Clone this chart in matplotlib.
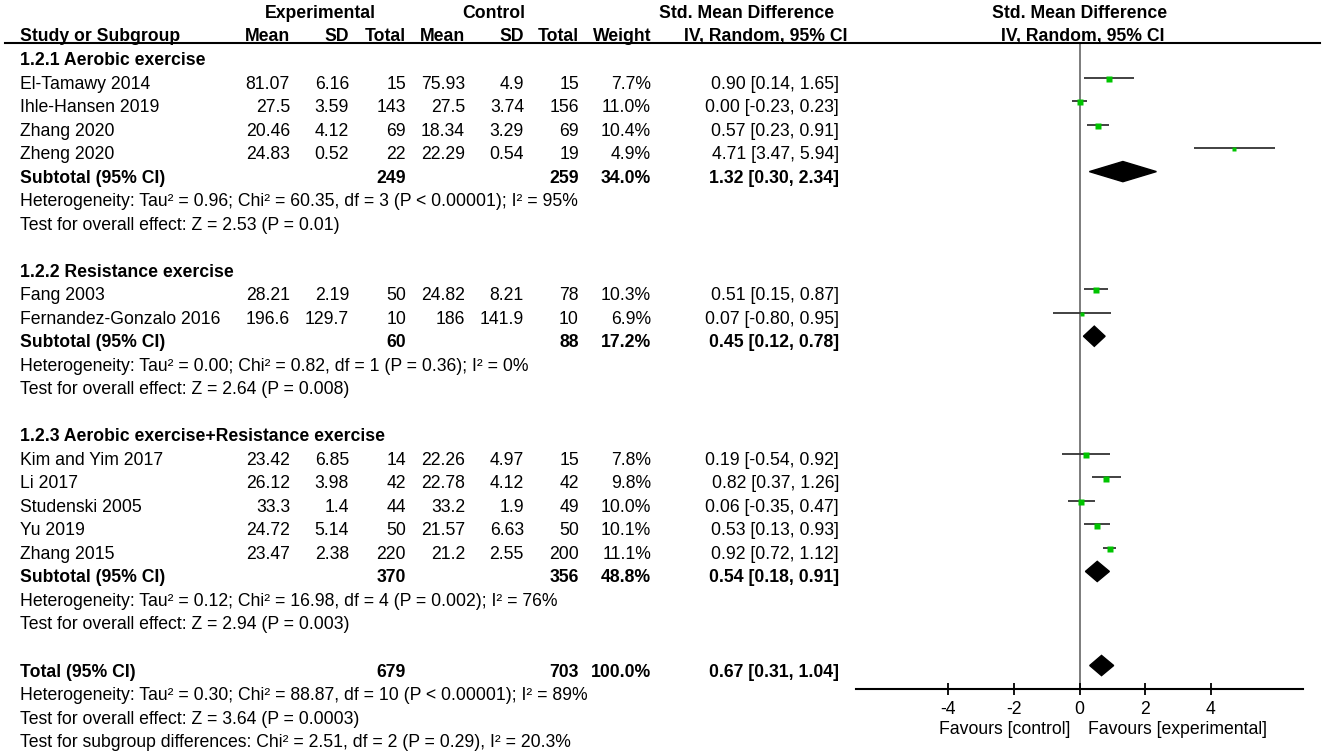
import matplotlib
matplotlib.use('Agg')
import matplotlib.pyplot as plt
from matplotlib.patches import Polygon

plt.rcParams['font.family'] = ['Liberation Sans', 'DejaVu Sans']
plt.rcParams['axes.unicode_minus'] = False

# ---- data ----
groups = ['1.2.1 Aerobic exercise', '1.2.2 Resistance exercise',
          '1.2.3 Aerobic exercise+Resistance exercise']
study = ['El-Tamawy 2014', 'Ihle-Hansen 2019', 'Zhang 2020', 'Zheng 2020',
         'Fang 2003', 'Fernandez-Gonzalo 2016',
         'Kim and Yim 2017', 'Li 2017', 'Studenski 2005', 'Yu 2019', 'Zhang 2015']
group_of = [0, 0, 0, 0, 1, 1, 2, 2, 2, 2, 2]
exp_mean = ['81.07', '27.5', '20.46', '24.83', '28.21', '196.6', '23.42', '26.12', '33.3', '24.72', '23.47']
exp_sd = ['6.16', '3.59', '4.12', '0.52', '2.19', '129.7', '6.85', '3.98', '1.4', '5.14', '2.38']
exp_n = [15, 143, 69, 22, 50, 10, 14, 42, 44, 50, 220]
ctl_mean = ['75.93', '27.5', '18.34', '22.29', '24.82', '186', '22.26', '22.78', '33.2', '21.57', '21.2']
ctl_sd = ['4.9', '3.74', '3.29', '0.54', '8.21', '141.9', '4.97', '4.12', '1.9', '6.63', '2.55']
ctl_n = [15, 156, 69, 19, 78, 10, 15, 42, 49, 50, 200]
weight = [7.7, 11.0, 10.4, 4.9, 10.3, 6.9, 7.8, 9.8, 10.0, 10.1, 11.1]
smd = [0.90, 0.00, 0.57, 4.71, 0.51, 0.07, 0.19, 0.82, 0.06, 0.53, 0.92]
ci_lo = [0.14, -0.23, 0.23, 3.47, 0.15, -0.80, -0.54, 0.37, -0.35, 0.13, 0.72]
ci_hi = [1.65, 0.23, 0.91, 5.94, 0.87, 0.95, 0.92, 1.26, 0.47, 0.93, 1.12]

sub_n_exp = [249, 60, 370]
sub_n_ctl = [259, 88, 356]
sub_weight = [34.0, 17.2, 48.8]
sub_smd = [1.32, 0.45, 0.54]
sub_lo = [0.30, 0.12, 0.18]
sub_hi = [2.34, 0.78, 0.91]
sub_het = ['Heterogeneity: Tau² = 0.96; Chi² = 60.35, df = 3 (P < 0.00001); I² = 95%',
           'Heterogeneity: Tau² = 0.00; Chi² = 0.82, df = 1 (P = 0.36); I² = 0%',
           'Heterogeneity: Tau² = 0.12; Chi² = 16.98, df = 4 (P = 0.002); I² = 76%']
sub_test = ['Test for overall effect: Z = 2.53 (P = 0.01)',
            'Test for overall effect: Z = 2.64 (P = 0.008)',
            'Test for overall effect: Z = 2.94 (P = 0.003)']

tot_n_exp, tot_n_ctl, tot_weight = 679, 703, 100.0
tot_smd, tot_lo, tot_hi = 0.67, 0.31, 1.04
tot_notes = ['Heterogeneity: Tau² = 0.30; Chi² = 88.87, df = 10 (P < 0.00001); I² = 89%',
             'Test for overall effect: Z = 3.64 (P = 0.0003)',
             'Test for subgroup differences: Chi² = 2.51, df = 2 (P = 0.29), I² = 20.3%']

xticks = [-4, -2, 0, 2, 4]

# ---- layout (pixels) ----
W, H = 1325, 754
FS = 12.7
ROW0, PITCH = 65, 23.52      # baseline of first table row, row pitch
MARK0 = 54                   # plot row centre of first row
TOP, AXIS_Y = 43, 689
X_L, X_R = 856, 1303
cols = [290, 349, 406, 465, 524, 579, 651]
X_EFF = 839
GREEN = '#00c400'

fig = plt.figure(figsize=(W / 100, H / 100), dpi=100)

ax = fig.add_axes([X_L / W, (H - AXIS_Y) / H, (X_R - X_L) / W, (AXIS_Y - TOP) / H])
ax.set_xlim(-6.8, 6.8)
ax.set_ylim((AXIS_Y - MARK0) / PITCH, -(MARK0 - TOP) / PITCH)
for s in ['left', 'right', 'top']:
    ax.spines[s].set_visible(False)
ax.spines['bottom'].set_linewidth(1.5)
ax.set_yticks([])
ax.set_xticks(xticks)
ax.set_xticklabels([str(t) for t in xticks], fontsize=FS)
ax.tick_params(axis='x', direction='inout', length=9, width=1.3, pad=4.5)
ax.axvline(0, color='#666666', lw=1.2, zorder=1)

tab = fig.add_axes([0, 0, 1, 1])
tab.set_xlim(0, W)
tab.set_ylim(H, 0)
tab.axis('off')


def put(x, i, s, ha='right', bold=False):
    tab.text(x, ROW0 + PITCH * i, s, ha=ha, va='baseline', fontsize=FS,
             fontweight='bold' if bold else 'normal')


def diamond(i, est, lo, hi):
    h = 0.43
    ax.add_patch(Polygon([(lo, i), (est, i - h), (hi, i), (est, i + h)],
                         closed=True, color='black', zorder=3))


# headers
put(320, -2, 'Experimental', 'center', True)
put(494, -2, 'Control', 'center', True)
put(747, -2, 'Std. Mean Difference', 'center', True)
put(1080, -2, 'Std. Mean Difference', 'center', True)
put(20, -1, 'Study or Subgroup', 'left', True)
for x, s in zip(cols, ['Mean', 'SD', 'Total', 'Mean', 'SD', 'Total', 'Weight']):
    put(x, -1, s, 'right', True)
put(766, -1, 'IV, Random, 95% CI', 'center', True)
put(1083, -1, 'IV, Random, 95% CI', 'center', True)
tab.plot([5, 1320], [TOP, TOP], color='black', lw=1.5)

row = 0
for g in range(len(groups)):
    put(20, row, groups[g], 'left', True)
    row += 1
    for k in range(len(study)):
        if group_of[k] != g:
            continue
        put(20, row, study[k], 'left')
        vals = [exp_mean[k], exp_sd[k], str(exp_n[k]), ctl_mean[k], ctl_sd[k],
                str(ctl_n[k]), f'{weight[k]:.1f}%']
        for x, s in zip(cols, vals):
            put(x, row, s)
        put(X_EFF, row, f'{smd[k]:.2f} [{ci_lo[k]:.2f}, {ci_hi[k]:.2f}]')
        ax.hlines(row, ci_lo[k], ci_hi[k], color='#333333', lw=1.3, zorder=2)
        ax.plot(smd[k], row + 0.05, marker='s', ms=1.35 * weight[k] ** 0.5,
                color=GREEN, mec='none', zorder=3)
        row += 1
    put(20, row, 'Subtotal (95% CI)', 'left', True)
    put(cols[2], row, str(sub_n_exp[g]), bold=True)
    put(cols[5], row, str(sub_n_ctl[g]), bold=True)
    put(cols[6], row, f'{sub_weight[g]:.1f}%', bold=True)
    put(X_EFF, row, f'{sub_smd[g]:.2f} [{sub_lo[g]:.2f}, {sub_hi[g]:.2f}]', bold=True)
    diamond(row, sub_smd[g], sub_lo[g], sub_hi[g])
    row += 1
    put(20, row, sub_het[g], 'left')
    row += 1
    put(20, row, sub_test[g], 'left')
    row += 2

put(20, row, 'Total (95% CI)', 'left', True)
put(cols[2], row, str(tot_n_exp), bold=True)
put(cols[5], row, str(tot_n_ctl), bold=True)
put(cols[6], row, f'{tot_weight:.1f}%', bold=True)
put(X_EFF, row, f'{tot_smd:.2f} [{tot_lo:.2f}, {tot_hi:.2f}]', bold=True)
diamond(row, tot_smd, tot_lo, tot_hi)
row += 1
for s in tot_notes:
    put(20, row, s, 'left')
    row += 1

tab.text(1070, 734, 'Favours [control]', ha='right', va='baseline', fontsize=FS)
tab.text(1088, 734, 'Favours [experimental]', ha='left', va='baseline', fontsize=FS)

fig.savefig('out.png', dpi=100)
